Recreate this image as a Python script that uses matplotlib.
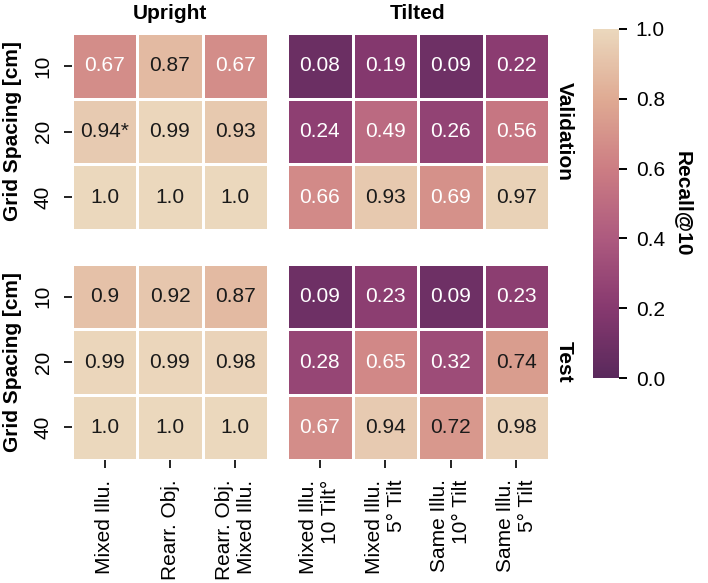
import numpy as np
import matplotlib
matplotlib.use("Agg")
import matplotlib.pyplot as plt
from matplotlib.colors import LinearSegmentedColormap
import seaborn as sns

plt.rcParams['font.family'] = ['Liberation Sans', 'DejaVu Sans']
plt.rcParams['font.size'] = 15

grid_spacing = ["10", "20", "40"]
upright_cols = ["Mixed Illu.", "Rearr. Obj.", "Rearr. Obj.\nMixed Illu."]
tilted_cols = ["Mixed Illu.\n10 Tilt°", "Mixed Illu.\n5° Tilt", "Same Illu.\n10° Tilt", "Same Illu.\n5° Tilt"]

val_upright = [[0.67, 0.87, 0.67],
               [0.94, 0.99, 0.93],
               [1.0, 1.0, 1.0]]
val_tilted = [[0.08, 0.19, 0.09, 0.22],
              [0.24, 0.49, 0.26, 0.56],
              [0.66, 0.93, 0.69, 0.97]]
test_upright = [[0.9, 0.92, 0.87],
                [0.99, 0.99, 0.98],
                [1.0, 1.0, 1.0]]
test_tilted = [[0.09, 0.23, 0.09, 0.23],
               [0.28, 0.65, 0.32, 0.74],
               [0.67, 0.94, 0.72, 0.98]]
# marked result (asterisk) : validation / upright, row 20, col 0
star = (1, 0)

cmap = LinearSegmentedColormap.from_list("recall", [
    (0.0, "#59295c"), (0.2, "#87396f"), (0.4, "#ad5a7f"),
    (0.6, "#cc7d83"), (0.8, "#dfaa93"), (1.0, "#ebd8bd")])

fig = plt.figure(figsize=(7.08, 5.83), dpi=100)
W, H = 708, 583

def box(x0, y0, x1, y1):
    return [x0 / W, 1 - y1 / H, (x1 - x0) / W, (y1 - y0) / H]

ax_vu = fig.add_axes(box(72, 33, 268, 230))
ax_vt = fig.add_axes(box(287, 33, 549, 230))
ax_tu = fig.add_axes(box(72, 264, 268, 460))
ax_tt = fig.add_axes(box(287, 264, 549, 460))
cax = fig.add_axes(box(593, 29, 619, 378))

def draw(ax, data, mark=None):
    d = np.array(data)
    sns.heatmap(d, ax=ax, cmap=cmap, vmin=0, vmax=1, cbar=False,
                linewidths=2, linecolor="white")
    for i in range(d.shape[0]):
        for j in range(d.shape[1]):
            s = str(d[i, j])
            if mark == (i, j):
                s += "*"
            c = "#1a1a1a" if d[i, j] > 0.7 else "white"
            ax.text(j + 0.5, i + 0.5, s, ha="center", va="center",
                    color=c, fontsize=15)
    ax.tick_params(length=6, width=1.4, color="#222222", pad=8)

draw(ax_vu, val_upright, star)
draw(ax_vt, val_tilted)
draw(ax_tu, test_upright)
draw(ax_tt, test_tilted)

for ax in [ax_vu, ax_tu]:
    ax.set_yticks(np.arange(3) + 0.5)
    ax.set_yticklabels(grid_spacing, rotation=90, va="center")
    ax.set_ylabel("Grid Spacing [cm]", fontweight="bold", fontsize=15,
                  labelpad=8)
for ax in [ax_vt, ax_tt]:
    ax.set_yticks([])
for ax in [ax_vu, ax_vt]:
    ax.set_xticks([])

ax_tu.set_xticks(np.arange(3) + 0.5)
ax_tu.set_xticklabels(upright_cols, rotation=90, ha="center", va="top",
                      multialignment="right")
ax_tt.set_xticks(np.arange(4) + 0.5)
ax_tt.set_xticklabels(tilted_cols, rotation=90, ha="center", va="top",
                      multialignment="right")

ax_vu.set_title("Upright", fontweight="bold", fontsize=15, pad=10)
ax_vt.set_title("Tilted", fontweight="bold", fontsize=15, pad=10)

ax_vt.text(1.06, 0.5, "Validation", transform=ax_vt.transAxes, rotation=-90,
           ha="center", va="center", fontweight="bold", fontsize=15)
ax_tt.text(1.06, 0.5, "Test", transform=ax_tt.transAxes, rotation=-90,
           ha="center", va="center", fontweight="bold", fontsize=15)

sm = plt.cm.ScalarMappable(cmap=cmap, norm=plt.Normalize(0, 1))
cb = fig.colorbar(sm, cax=cax)
cb.outline.set_visible(False)
cb.set_ticks([0.0, 0.2, 0.4, 0.6, 0.8, 1.0])
cb.ax.tick_params(length=6, width=1.4, labelsize=15, pad=6)
cb.set_label("Recall@10", rotation=270, fontweight="bold", fontsize=15,
             labelpad=20)

fig.savefig("out.png", dpi=100)
